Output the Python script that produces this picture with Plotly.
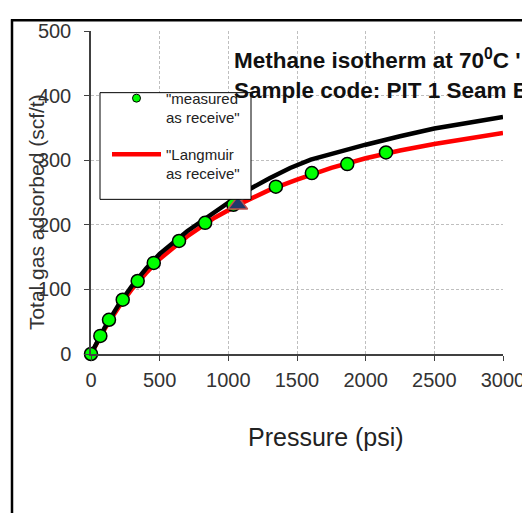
import plotly.graph_objects as go

# Measured isotherm points (psi, scf/t)
measured_p = [0, 68, 131, 231, 340, 457, 641, 831, 1037, 1346, 1608, 1866, 2148]
measured_v = [0, 28, 53, 84, 113, 141, 175, 203, 231, 259, 280, 294, 312]

# Langmuir fit curve
lang_p = [0, 100, 200, 300, 400, 500, 700, 900, 1100, 1300, 1500, 1750, 2000, 2250, 2500, 2750, 3000]
lang_v = [0, 39, 72, 101, 125, 147, 182, 211, 234, 254, 270, 288, 303, 315, 325, 334, 342]

# Black reference curve
black_p = [0, 100, 200, 300, 400, 500, 700, 900, 1000, 1100, 1300, 1450, 1600, 1800, 2000, 2250, 2500, 2750, 3000]
black_v = [0, 41, 76, 106, 132, 155, 190, 220, 235, 249, 272, 288, 301, 313, 324, 337, 349, 358, 367]

# Triangle point
tri_p = [1069]
tri_v = [231]

x_ticks = [0, 500, 1000, 1500, 2000, 2500, 3000]
y_ticks = [0, 100, 200, 300, 400, 500]

FONT = "Liberation Sans, Arial, sans-serif"

fig = go.Figure()
fig.add_trace(go.Scatter(x=lang_p, y=lang_v, mode="lines",
                         line=dict(color="#FF0000", width=4.5),
                         showlegend=False, cliponaxis=False))
fig.add_trace(go.Scatter(x=black_p, y=black_v, mode="lines",
                         line=dict(color="#000000", width=4.5),
                         showlegend=False, cliponaxis=False))
fig.add_trace(go.Scatter(x=measured_p, y=measured_v, mode="markers",
                         marker=dict(symbol="circle", size=13, color="#00FF00",
                                     line=dict(color="#000000", width=1.5)),
                         showlegend=False, cliponaxis=False))
fig.add_trace(go.Scatter(x=tri_p, y=tri_v, mode="markers",
                         marker=dict(symbol="triangle-up", size=17, color="#1F3A6B",
                                     line=dict(color="#C0504D", width=1.5)),
                         showlegend=False, cliponaxis=False))
# legend entries (keys only, no data)
fig.add_trace(go.Scatter(x=[None], y=[None], mode="markers",
                         marker=dict(symbol="circle", size=8, color="#00FF00",
                                     line=dict(color="#000000", width=1)),
                         name='"measured<br>as receive"', legendgroup="a", legendrank=1))
fig.add_trace(go.Scatter(x=[None], y=[None], mode="lines",
                         line=dict(color="#FF0000", width=4.5),
                         name='"Langmuir<br>as receive"', legendgroup="b", legendrank=2))

W, H = 530, 513
OFF = 8  # page body margin
L, R, T, B = 83, 35, 16, 167
pw, ph = W - L - R, H - T - B

def px(xs):
    return (xs - OFF - L) / pw

def py(ys):
    return (H - B - (ys - OFF)) / ph

fig.update_layout(
    width=W, height=H,
    margin=dict(l=L, r=R, t=T, b=B),
    paper_bgcolor="white", plot_bgcolor="white",
    font=dict(family=FONT, color="#333333"),
    showlegend=True,
    legend=dict(x=px(107), y=py(76), xanchor="left", yanchor="top",
                bgcolor="rgba(0,0,0,0)", borderwidth=0,
                font=dict(size=15, color="#222222", family=FONT),
                tracegroupgap=14, itemwidth=49, valign="top"),
    xaxis=dict(range=[0, 3000], tickvals=x_ticks, showgrid=True,
               gridcolor="#BFBFBF", griddash="3px,2px", gridwidth=1,
               showline=True, linecolor="#404040", linewidth=1.5,
               ticks="outside", ticklen=5, tickcolor="#404040",
               ticklabelstandoff=2,
               tickfont=dict(size=20, family=FONT, color="#333333"),
               zeroline=False),
    yaxis=dict(range=[0, 500], tickvals=y_ticks, showgrid=True,
               gridcolor="#BFBFBF", griddash="3px,2px", gridwidth=1,
               showline=True, linecolor="#404040", linewidth=1.5,
               ticks="outside", ticklen=5, tickcolor="#404040",
               ticklabelstandoff=9,
               tickfont=dict(size=20, family=FONT, color="#333333"),
               zeroline=False),
)

annotations = [
    dict(text="Methane isotherm at 70<sup>0</sup>C '<br>Sample code: PIT 1 Seam B",
         xref="paper", yref="paper", x=px(232), y=py(68), xanchor="left", yanchor="middle",
         showarrow=False, align="left",
         font=dict(size=22.5, family=FONT, color="#111111", weight="bold")),
    dict(text="Pressure (psi)", xref="paper", yref="paper",
         x=px(326), y=py(439), xanchor="center", yanchor="middle", showarrow=False,
         font=dict(size=25, family=FONT, color="#222222")),
    dict(text="Total gas adsorbed (scf/t)", xref="paper", yref="paper",
         x=px(36), y=py(209), xanchor="center", yanchor="middle", showarrow=False,
         textangle=-90, font=dict(size=21, family=FONT, color="#333333")),
]
fig.update_layout(annotations=annotations)

# Legend box
fig.add_shape(type="rect", xref="paper", yref="paper", layer="above",
              x0=px(100), x1=px(251), y0=py(87), y1=py(196),
              fillcolor="white", line=dict(color="black", width=1))

# Outer chart frame (cropped on right and bottom)
fig.add_shape(type="line", xref="paper", yref="paper",
              x0=px(12), x1=px(12), y0=py(12), y1=py(540),
              line=dict(color="black", width=2.5))
fig.add_shape(type="line", xref="paper", yref="paper",
              x0=px(11), x1=px(560), y0=py(13), y1=py(13),
              line=dict(color="black", width=2.5))

fig.write_html("out.html")
